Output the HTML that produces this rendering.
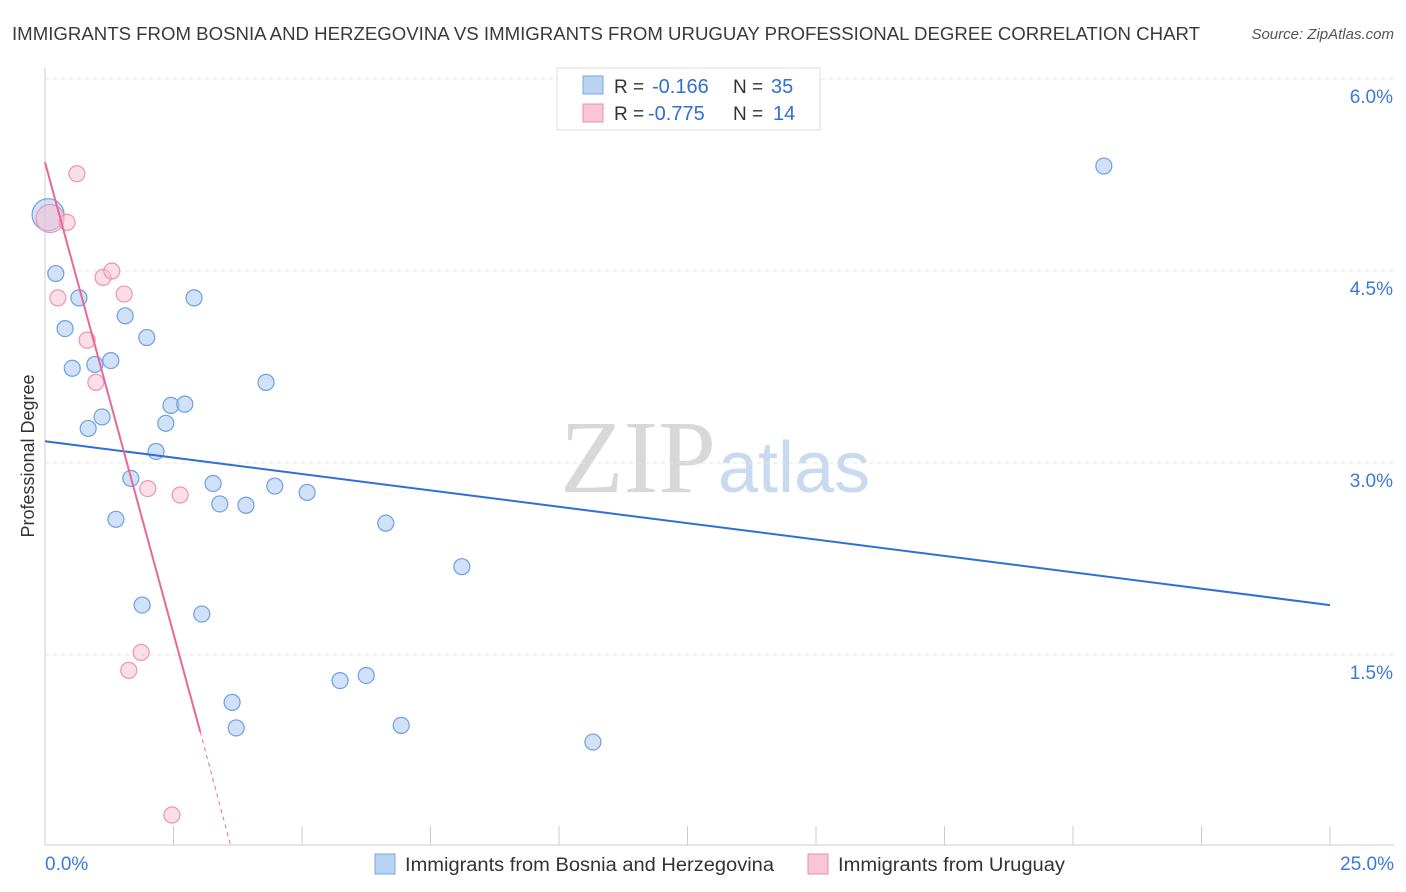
<!DOCTYPE html>
<html><head><meta charset="utf-8"><style>
body{margin:0;background:#fff;font-family:"Liberation Sans",sans-serif;}
#wrap{position:relative;width:1406px;height:892px;overflow:hidden;}
</style></head><body>
<div id="wrap">
<svg id="chart" width="1406" height="892">
<text x="12" y="40" font-size="18" fill="#3a3a3a" textLength="1188" lengthAdjust="spacingAndGlyphs">IMMIGRANTS FROM BOSNIA AND HERZEGOVINA VS IMMIGRANTS FROM URUGUAY PROFESSIONAL DEGREE CORRELATION CHART</text>
<text x="1394" y="39" font-size="15" fill="#555" font-style="italic" text-anchor="end">Source: ZipAtlas.com</text>
<text x="716" y="492" font-size="104" fill="#d8d8d8" font-family="Liberation Serif" text-anchor="end">ZIP</text>
<text x="718" y="492" font-size="72" fill="#c9d9f0">atlas</text>
<text transform="translate(34,456) rotate(-90)" font-size="18" fill="#333" text-anchor="middle">Professional Degree</text>
<g id="grid"></g><g id="ticks"></g><g id="marks"></g>
<g>
<rect x="557" y="68" width="263" height="62" fill="#fff" stroke="#ddd"/>
<rect x="583" y="76" width="20" height="18" fill="#b9d3f5" stroke="#7aa6e0"/>
<rect x="583" y="104" width="20" height="18" fill="#f9c6d5" stroke="#eb8fab"/>
<text x="614" y="93" font-size="19" fill="#333">R = </text><text x="652" y="93" font-size="20" fill="#2f6fd6">-0.166</text>
<text x="733" y="93" font-size="19" fill="#333">N = </text><text x="771" y="93" font-size="20" fill="#2f6fd6">35</text>
<text x="614" y="120" font-size="19" fill="#333">R = </text><text x="648" y="120" font-size="20" fill="#2f6fd6">-0.775</text>
<text x="733" y="120" font-size="19" fill="#333">N = </text><text x="773" y="120" font-size="20" fill="#2f6fd6">14</text>
</g>
<g>
<rect x="375" y="854" width="20" height="20" fill="#b9d3f5" stroke="#7aa6e0"/>
<text x="405" y="871" font-size="19" fill="#333" textLength="369" lengthAdjust="spacingAndGlyphs">Immigrants from Bosnia and Herzegovina</text>
<rect x="808" y="854" width="20" height="20" fill="#f9c6d5" stroke="#eb8fab"/>
<text x="838" y="871" font-size="19" fill="#333" textLength="227" lengthAdjust="spacingAndGlyphs">Immigrants from Uruguay</text>
</g>
</svg>
</div>
<script>
const xTicks=[0,2.5,5,7.5,10,12.5,15,17.5,20,22.5,25];
const yTicks=[1.5,3.0,4.5,6.0];
const blueX=[0.06,0.21,0.66,0.39,0.53,0.97,1.28,1.56,1.98,2.90,0.84,1.11,2.45,2.72,2.35,2.16,1.67,3.27,3.40,3.91,4.47,5.10,4.30,1.38,6.63,8.11,1.89,3.05,3.64,3.72,5.74,6.25,6.93,10.66,20.60];
const blueY=[4.94,4.48,4.29,4.05,3.74,3.77,3.80,4.15,3.98,4.29,3.27,3.36,3.45,3.46,3.31,3.09,2.88,2.84,2.68,2.67,2.82,2.77,3.63,2.56,2.53,2.19,1.89,1.82,1.13,0.93,1.30,1.34,0.95,0.82,5.32];
const pinkX=[0.10,0.62,0.43,0.25,1.13,1.30,1.54,0.82,0.99,2.00,2.63,1.87,1.63,2.47];
const pinkY=[4.91,5.26,4.88,4.29,4.45,4.50,4.32,3.96,3.63,2.80,2.75,1.52,1.38,0.25];
const blueTrend=[0,3.17,25,1.89];
const pinkTrend=[0,5.35,3.02,0.90,3.62,0.0];
const X=v=>45+v*51.4, Y=v=>847-v*128;
const NS='http://www.w3.org/2000/svg';
function mk(tag,attrs,parent){const e=document.createElementNS(NS,tag);for(const k in attrs)e.setAttribute(k,attrs[k]);document.getElementById(parent).appendChild(e);return e;}
let e=mk('line',{x1:45,y1:68,x2:45,y2:845,stroke:'#ccc'},'grid');


e=mk('line',{x1:45,y1:845,x2:1394,y2:845,stroke:'#ccc'},'grid');


yTicks.forEach(t=>{
 e=mk('line',{x1:45,y1:Y(t),x2:1394,y2:Y(t),stroke:'#e4e4e4','stroke-dasharray':'4,4'},'grid');
 
 
 e=mk('text',{x:1393,y:Y(t)+24,'font-size':19,fill:'#3b78d8','text-anchor':'end'},'ticks');e.textContent=t.toFixed(1)+'%';
 
 
});
xTicks.forEach(t=>{
 e=mk('line',{x1:X(t),y1:826,x2:X(t),y2:845,stroke:'#ccc'},'ticks');
 
 
});
e=mk('text',{x:45,y:870,'font-size':19,fill:'#3b78d8'},'ticks');e.textContent=xTicks[0].toFixed(1)+'%';


e=mk('text',{x:1394,y:870,'font-size':19,fill:'#3b78d8','text-anchor':'end'},'ticks');e.textContent=xTicks[xTicks.length-1].toFixed(1)+'%';


blueX.forEach((x,i)=>{
 e=mk('circle',{cx:X(x),cy:Y(blueY[i]),r:i===0?16:8,fill:'rgba(170,200,242,0.55)',stroke:'#6e9fe0','stroke-width':1.2},'marks');
 
 
});
pinkX.forEach((x,i)=>{
 e=mk('circle',{cx:X(x),cy:Y(pinkY[i]),r:i===0?14:8,fill:'rgba(248,190,208,0.5)',stroke:'#ec95b0','stroke-width':1.2},'marks');
 
 
});
e=mk('line',{x1:X(blueTrend[0]),y1:Y(blueTrend[1]),x2:X(blueTrend[2]),y2:Y(blueTrend[3]),stroke:'#2f6fd6','stroke-width':2},'marks');


e=mk('line',{x1:X(pinkTrend[0]),y1:Y(pinkTrend[1]),x2:X(pinkTrend[2]),y2:Y(pinkTrend[3]),stroke:'#e8689a','stroke-width':2},'marks');


e=mk('line',{x1:X(pinkTrend[2]),y1:Y(pinkTrend[3]),x2:X(pinkTrend[4]),y2:Y(pinkTrend[5]),stroke:'#e8689a','stroke-width':1,'stroke-dasharray':'4,4'},'marks');


</script>
</body></html>
